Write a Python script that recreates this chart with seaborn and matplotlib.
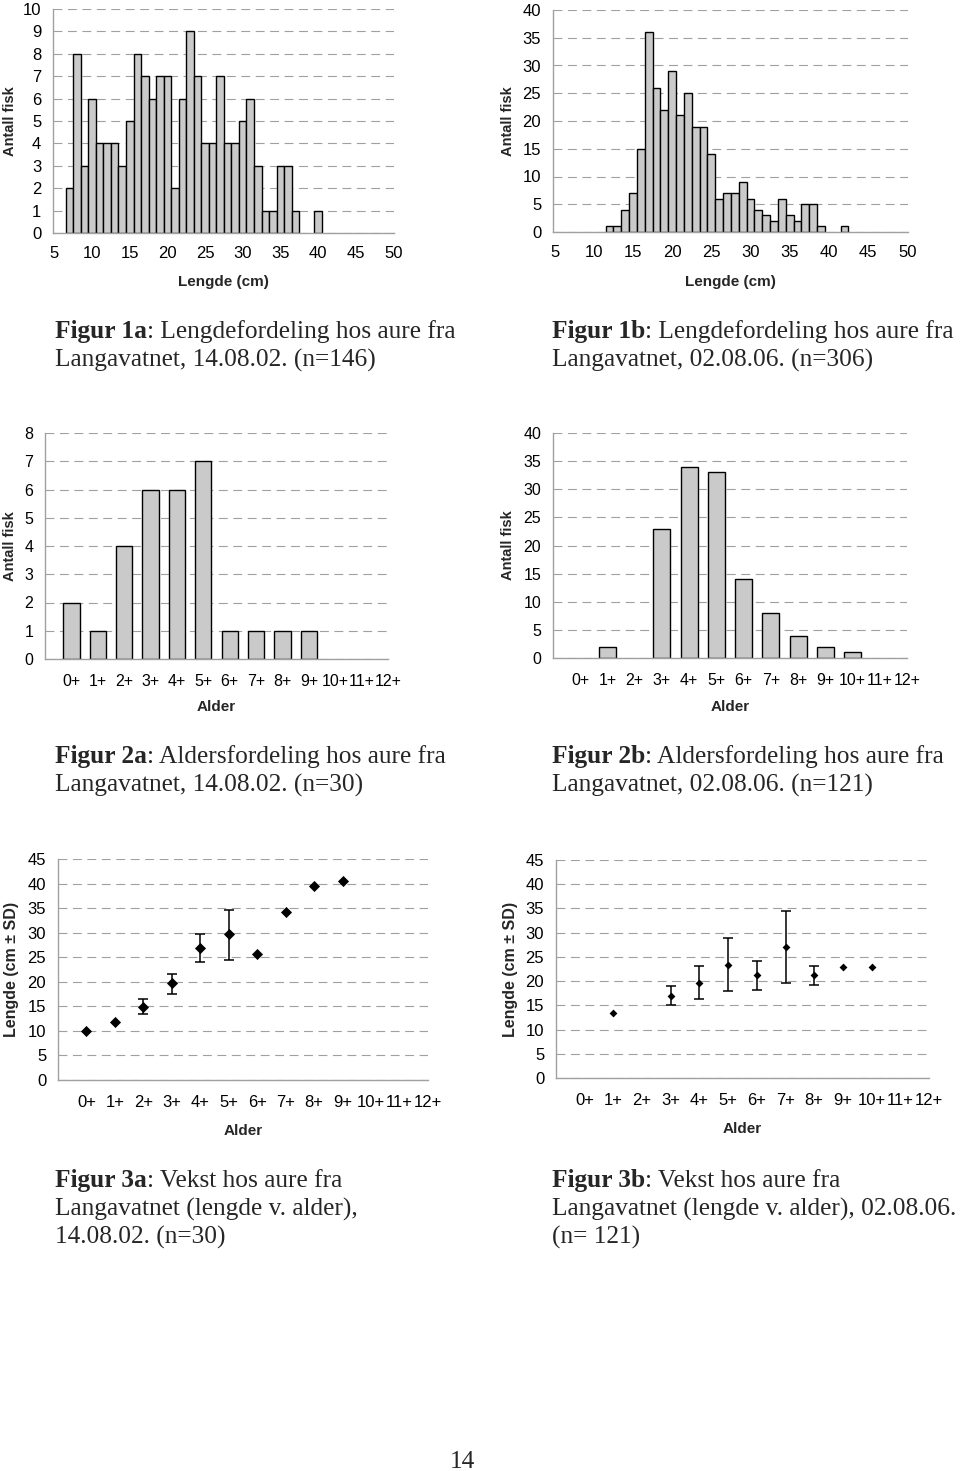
import numpy as np
import pandas as pd
import matplotlib
matplotlib.use("Agg")
import matplotlib.pyplot as plt
from matplotlib.ticker import MultipleLocator
import seaborn as sns

# ---------------- data ----------------
len_1a = list(range(7, 41))
cnt_1a = [2, 8, 3, 6, 4, 4, 4, 3, 5, 8, 7, 6, 7, 7, 2, 6, 9, 7, 4, 4, 7, 4, 4, 5, 6, 3,
          1, 1, 3, 3, 1, 0, 0, 1]

len_1b = list(range(12, 43))
cnt_1b = [1, 1, 4, 7, 15, 36, 26, 22, 29, 21, 25, 19, 19, 14, 6, 7, 7, 9, 6, 4, 3, 2, 6,
          3, 2, 5, 5, 1, 0, 0, 1]

ages = ["0+", "1+", "2+", "3+", "4+", "5+", "6+", "7+", "8+", "9+", "10+", "11+", "12+"]
cnt_2a = [2, 1, 4, 6, 6, 7, 1, 1, 1, 1, 0, 0, 0]
cnt_2b = [0, 2, 0, 23, 34, 33, 14, 8, 4, 2, 1, 0, 0]

mean_3a = [9.9, 11.8, 14.8, 19.7, 26.9, 29.7, 25.6, 34.3, 39.6, 40.5, np.nan, np.nan, np.nan]
lo_3a = [np.nan, np.nan, 13.4, 17.6, 24.0, 24.5, np.nan, np.nan, np.nan, np.nan, np.nan, np.nan, np.nan]
hi_3a = [np.nan, np.nan, 16.4, 21.6, 29.8, 34.6, np.nan, np.nan, np.nan, np.nan, np.nan, np.nan, np.nan]

mean_3b = [np.nan, 13.4, np.nan, 17.0, 19.7, 23.3, 21.3, 27.1, 21.3, 23.0, 23.0, np.nan, np.nan]
lo_3b = [np.nan, np.nan, np.nan, 15.1, 16.4, 18.0, 18.2, 19.7, 19.2, np.nan, np.nan, np.nan, np.nan]
hi_3b = [np.nan, np.nan, np.nan, 19.0, 23.2, 28.8, 24.2, 34.4, 23.2, np.nan, np.nan, np.nan, np.nan]

# ---------------- style ----------------
sns.set_style("white")
plt.rcParams["font.family"] = ["Liberation Sans", "DejaVu Sans"]
SERIF = ["Liberation Serif", "DejaVu Serif"]
BAR = "#cacaca"
AXC = "#a0a0a0"
GRID = "#a0a0a0"

W, H = 960, 1471
fig = plt.figure(figsize=(W / 100, H / 100), dpi=100)
fig.patch.set_facecolor("white")


def ax_px(l, t, r, b):
    return fig.add_axes([l / W, 1 - b / H, (r - l) / W, (b - t) / H])


def style(ax, l, t, r, b, xlab, ylab, xlab_y, ylab_x, fs=12, xpad=6, ylfs=10.5):
    for s in ["top", "right"]:
        ax.spines[s].set_visible(False)
    for s in ["left", "bottom"]:
        ax.spines[s].set_color(AXC)
        ax.spines[s].set_linewidth(1.0)
    ax.yaxis.grid(True, color=GRID, linestyle=(0, (8, 5)), linewidth=0.8)
    ax.xaxis.grid(False)
    ax.set_axisbelow(True)
    ax.tick_params(axis="both", which="both", direction="out", color=AXC,
                   length=3.5, width=0.9, labelsize=fs, labelcolor="black")
    ax.tick_params(axis="x", which="both", pad=xpad)
    ax.tick_params(axis="y", pad=5)
    ax.set_xlabel(xlab, fontsize=11, fontweight="bold")
    ax.set_ylabel(ylab, fontsize=ylfs, fontweight="bold")
    ax.xaxis.label.set_va("center")
    ax.yaxis.label.set_va("center")
    ax.xaxis.set_label_coords(0.5, -(xlab_y - b) / (b - t))
    ax.yaxis.set_label_coords(-(l - ylab_x) / (r - l), 0.5)


# ---------- Fig 1a / 1b : length histograms ----------
def hist_panel(l, t, r, b, lens, cnts, ymax, ystep, ylab_x):
    ax = ax_px(l, t, r, b)
    df = pd.DataFrame({"len": lens, "n": cnts})
    df = df[df["n"] > 0]
    sns.barplot(data=df, x="len", y="n", native_scale=True, width=1,
                color=BAR, saturation=1, edgecolor="black", linewidth=1.0, ax=ax)
    ax.set_xlim(4.8, 50.1)
    ax.set_ylim(0, ymax)
    ax.xaxis.set_major_locator(MultipleLocator(5))
    ax.xaxis.set_minor_locator(MultipleLocator(1))
    ax.yaxis.set_major_locator(MultipleLocator(ystep))
    style(ax, l, t, r, b, "Lengde (cm)", "Antall fisk", 282, ylab_x, fs=12)
    return ax


hist_panel(53, 9, 394, 233, len_1a, cnt_1a, 10, 1, 10)
hist_panel(553, 10, 908, 232, len_1b, cnt_1b, 40, 5, 508)


# ---------- Fig 2a / 2b : age distributions ----------
def age_panel(l, t, r, b, cnts, ymax, ystep, ylab_x):
    ax = ax_px(l, t, r, b)
    df = pd.DataFrame({"age": ages, "n": cnts})
    df = df[df["n"] > 0]
    sns.barplot(data=df, x="age", y="n", order=ages, width=0.62,
                color=BAR, saturation=1, edgecolor="black", linewidth=1.0, ax=ax)
    ax.set_xlim(-1, len(ages) - 1)
    ax.set_ylim(0, ymax)
    ax.set_xticks(range(-1, len(ages)))
    ax.set_xticklabels([""] + ages)
    ax.yaxis.set_major_locator(MultipleLocator(ystep))
    style(ax, l, t, r, b, "Alder", "Antall fisk", 707, ylab_x, fs=11.5, xpad=7)
    return ax


age_panel(45, 433, 388, 659, cnt_2a, 8, 1, 10)
age_panel(553, 433, 907, 658, cnt_2b, 40, 5, 508)


# ---------- Fig 3a / 3b : growth ----------
def growth_panel(l, t, r, b, mean, lo, hi, ms, xlab_y, ylab_x):
    ax = ax_px(l, t, r, b)
    x = np.arange(len(ages))
    mean = np.array(mean, dtype=float)
    lo = np.array(lo, dtype=float)
    hi = np.array(hi, dtype=float)
    has = ~np.isnan(lo)
    ax.errorbar(x[has], mean[has], yerr=[mean[has] - lo[has], hi[has] - mean[has]],
                fmt="none", ecolor="black", elinewidth=1.1, capsize=3.5, capthick=1.1)
    pts = pd.DataFrame({"x": x, "y": mean}).dropna()
    sns.scatterplot(data=pts, x="x", y="y", marker="D", s=ms, color="black",
                    edgecolor="black", linewidth=0, ax=ax, zorder=5)
    ax.set_xlim(-1, len(ages) - 1)
    ax.set_ylim(0, 45)
    ax.set_xticks(range(-1, len(ages)))
    ax.set_xticklabels([""] + ages)
    ax.yaxis.set_major_locator(MultipleLocator(5))
    style(ax, l, t, r, b, "Alder", "Lengde (cm \u00b1 SD)", xlab_y, ylab_x, fs=12,
          xpad=7, ylfs=11.5)
    return ax


growth_panel(58, 859, 428, 1080, mean_3a, lo_3a, hi_3a, 32, 1131, 12)
growth_panel(556, 860, 929, 1078, mean_3b, lo_3b, hi_3b, 16, 1129, 510)

# ---------- captions ----------
CAP = 18.3
renderer = fig.canvas.get_renderer()


def caption(x, baselines, bold, lines):
    t = fig.text(x / W, 1 - baselines[0] / H, bold, fontsize=CAP, family=SERIF,
                 fontweight="bold", ha="left", va="baseline")
    bb = t.get_window_extent(renderer)
    fig.text(bb.x1 / W, 1 - baselines[0] / H, lines[0], fontsize=CAP, family=SERIF,
             ha="left", va="baseline")
    for yb, ln in zip(baselines[1:], lines[1:]):
        fig.text(x / W, 1 - yb / H, ln, fontsize=CAP, family=SERIF, ha="left", va="baseline")


caption(55, [338, 367], "Figur 1a", [": Lengdefordeling hos aure fra",
                                     "Langavatnet, 14.08.02. (n=146)"])
caption(552, [338, 367], "Figur 1b", [": Lengdefordeling hos aure fra",
                                      "Langavatnet, 02.08.06. (n=306)"])
caption(55, [763, 792], "Figur 2a", [": Aldersfordeling hos aure fra",
                                     "Langavatnet, 14.08.02. (n=30)"])
caption(552, [763, 792], "Figur 2b", [": Aldersfordeling hos aure fra",
                                      "Langavatnet, 02.08.06. (n=121)"])
caption(55, [1187, 1215.5, 1244], "Figur 3a", [": Vekst hos aure fra",
                                               "Langavatnet (lengde v. alder),",
                                               "14.08.02. (n=30)"])
caption(552, [1187, 1215.5, 1244], "Figur 3b", [": Vekst hos aure fra",
                                                "Langavatnet (lengde v. alder), 02.08.06.",
                                                "(n= 121)"])

fig.text(462 / W, 1 - 1468 / H, "14", fontsize=CAP, family=SERIF, ha="center", va="baseline")

fig.savefig("out.png", dpi=100, facecolor="white")
